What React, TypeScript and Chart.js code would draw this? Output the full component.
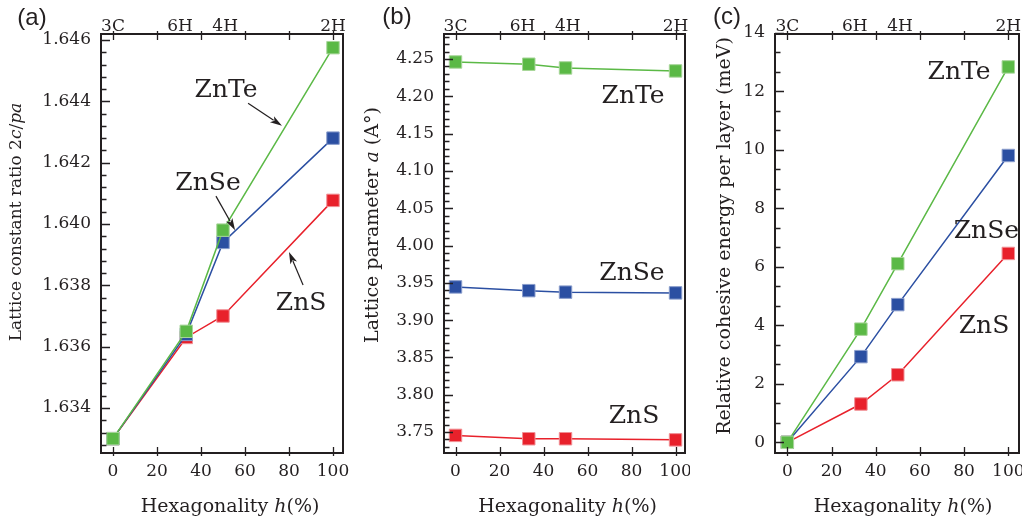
import React, { useEffect, useRef } from "react";
import { Chart, registerables } from "chart.js";

Chart.register(...registerables);

// ---------- data ----------
const hexagonality = [0, 33.3, 50, 100];
const xTicks = [0, 20, 40, 60, 80, 100];
const polytypeLabels = ["3C", "6H", "4H", "2H"];
const polytypeLabelAt = [0, 30.5, 51, 100];

const ratioZnTe = [1.633, 1.6365, 1.6398, 1.64575];
const ratioZnSe = [1.633, 1.6364, 1.6394, 1.6428];
const ratioZnS = [1.633, 1.6363, 1.6370, 1.64077];
const ratioTicks = [1.634, 1.636, 1.638, 1.64, 1.642, 1.644, 1.646];

const latticeZnTe = [4.246, 4.243, 4.238, 4.234];
const latticeZnSe = [3.9445, 3.9395, 3.9375, 3.9365];
const latticeZnS = [3.7455, 3.741, 3.741, 3.7395];
const latticeTicks = [3.75, 3.8, 3.85, 3.9, 3.95, 4.0, 4.05, 4.1, 4.15, 4.2, 4.25];

const energyZnTe = [0, 3.87, 6.11, 12.84];
const energyZnSe = [0, 2.93, 4.71, 9.81];
const energyZnS = [0, 1.31, 2.31, 6.46];
const energyTicks = [0, 2, 4, 6, 8, 10, 12, 14];

// ---------- styles ----------
const INK = "#231f20";
const SERIF = "'DejaVu Serif'";
const GREEN = "#5bb946";
const BLUE = "#2b4fa2";
const RED = "#e8212b";
const GREEN_EDGE = "#a8d69a";
const BLUE_EDGE = "#8a9dcc";
const RED_EDGE = "#f19095";
const H = 518;

type Seg = { t: string; i?: boolean };
type Series = { values: number[]; color: string; edge: string };
type Note = { text: string; x: number; y: number };
type Arrow = { x1: number; y1: number; x2: number; y2: number };
type Spec = {
  id: string;
  left: number;
  width: number;
  area: { left: number; right: number; top: number; bottom: number };
  xRange: [number, number];
  yRange: [number, number];
  yTicks: number[];
  yDigits: number;
  minorDiv: number;
  series: Series[];
  yTitle: Seg[];
  yTitlePos: [number, number];
  yTitleSize: number;
  tag: string;
  tagPos: [number, number];
  notes: Note[];
  arrows: Arrow[];
  xTitleShift: number;
};

const xTitle: Seg[] = [{ t: "Hexagonality " }, { t: "h", i: true }, { t: "(%)" }];

const specs: Spec[] = [
  {
    id: "a",
    left: 0,
    width: 350,
    area: { left: 101, right: 343, top: 34, bottom: 453 },
    xRange: [-5.45, 104.55],
    yRange: [1.632532, 1.646196],
    yTicks: ratioTicks,
    yDigits: 3,
    minorDiv: 5,
    series: [
      { values: ratioZnTe, color: GREEN, edge: GREEN_EDGE },
      { values: ratioZnSe, color: BLUE, edge: BLUE_EDGE },
      { values: ratioZnS, color: RED, edge: RED_EDGE },
    ],
    yTitle: [
      { t: "Lattice constant ratio 2" },
      { t: "c", i: true },
      { t: "/" },
      { t: "pa", i: true },
    ],
    yTitlePos: [17, 222],
    yTitleSize: 17,
    tag: "(a)",
    tagPos: [32, 18],
    notes: [
      { text: "ZnTe", x: 51.4, y: 1.64414 },
      { text: "ZnSe", x: 43.2, y: 1.64111 },
      { text: "ZnS", x: 85.5, y: 1.6372 },
    ],
    arrows: [
      { x1: 61.4, y1: 1.64394, x2: 76.8, y2: 1.6432 },
      { x1: 46.8, y1: 1.64091, x2: 55.5, y2: 1.6398 },
      { x1: 86.4, y1: 1.63801, x2: 80, y2: 1.63909 },
    ],
    xTitleShift: 8,
  },
  {
    id: "b",
    left: 350,
    width: 340,
    area: { left: 94, right: 335, top: 34, bottom: 453 },
    xRange: [-5.23, 104.3],
    yRange: [3.7219, 4.2835],
    yTicks: latticeTicks,
    yDigits: 2,
    minorDiv: 5,
    series: [
      { values: latticeZnTe, color: GREEN, edge: GREEN_EDGE },
      { values: latticeZnSe, color: BLUE, edge: BLUE_EDGE },
      { values: latticeZnS, color: RED, edge: RED_EDGE },
    ],
    yTitle: [{ t: "Lattice parameter " }, { t: "a", i: true }, { t: " (A°)" }],
    yTitlePos: [23, 225],
    yTitleSize: 19,
    tag: "(b)",
    tagPos: [47, 17],
    notes: [
      { text: "ZnTe", x: 80.7, y: 4.191 },
      { text: "ZnSe", x: 80.2, y: 3.9537 },
      { text: "ZnS", x: 81.1, y: 3.762 },
    ],
    arrows: [],
    xTitleShift: 3,
  },
  {
    id: "c",
    left: 690,
    width: 332,
    area: { left: 85, right: 329, top: 34, bottom: 453 },
    xRange: [-5.57, 104.84],
    yRange: [-0.366, 13.966],
    yTicks: energyTicks,
    yDigits: 0,
    minorDiv: 3,
    series: [
      { values: energyZnTe, color: GREEN, edge: GREEN_EDGE },
      { values: energyZnSe, color: BLUE, edge: BLUE_EDGE },
      { values: energyZnS, color: RED, edge: RED_EDGE },
    ],
    yTitle: [{ t: "Relative cohesive energy per layer (meV)" }],
    yTitlePos: [35, 236],
    yTitleSize: 19,
    tag: "(c)",
    tagPos: [37, 17],
    notes: [
      { text: "ZnTe", x: 77.7, y: 12.42 },
      { text: "ZnSe", x: 90.1, y: 7.0 },
      { text: "ZnS", x: 89, y: 3.75 },
    ],
    arrows: [],
    xTitleShift: 6,
  },
];

function drawSegs(ctx: CanvasRenderingContext2D, segs: Seg[], size: number) {
  const fonts = segs.map((s) => `${s.i ? "italic " : ""}${size}px ${SERIF}`);
  let total = 0;
  const widths = segs.map((s, k) => {
    ctx.font = fonts[k];
    const w = ctx.measureText(s.t).width;
    total += w;
    return w;
  });
  let cx = -total / 2;
  segs.forEach((s, k) => {
    ctx.font = fonts[k];
    ctx.fillText(s.t, cx, 0);
    cx += widths[k];
  });
}

function makeDecor(spec: Spec) {
  return {
    id: "decor" + spec.id,
    afterDraw(chart: any) {
      const ctx: CanvasRenderingContext2D = chart.ctx;
      const a = chart.chartArea;
      const xs = chart.scales.x;
      const ys = chart.scales.y;
      ctx.save();
      ctx.strokeStyle = INK;
      ctx.fillStyle = INK;

      // ticks
      ctx.lineWidth = 1.3;
      ctx.beginPath();
      for (const v of xTicks) {
        const px = Math.round(xs.getPixelForValue(v)) + 0.5;
        ctx.moveTo(px, a.bottom + 3);
        ctx.lineTo(px, a.bottom - 6);
        ctx.moveTo(px, a.top - 3);
        ctx.lineTo(px, a.top + 6);
      }
      for (const v of spec.yTicks) {
        const py = Math.round(ys.getPixelForValue(v)) + 0.5;
        ctx.moveTo(a.left, py);
        ctx.lineTo(a.left + 9, py);
      }
      const majorStep = spec.yTicks[1] - spec.yTicks[0];
      const minorStep = majorStep / spec.minorDiv;
      const base = spec.yTicks[0];
      for (let k = -40; k <= 200; k++) {
        if (k % spec.minorDiv === 0) continue;
        const v = base + k * minorStep;
        if (v < ys.min || v > ys.max) continue;
        const py = Math.round(ys.getPixelForValue(v)) + 0.5;
        ctx.moveTo(a.left, py);
        ctx.lineTo(a.left + 5.5, py);
      }
      ctx.stroke();

      // frame
      ctx.lineWidth = 2;
      ctx.strokeRect(a.left, a.top, a.right - a.left, a.bottom - a.top);

      // top polytype labels
      ctx.font = `17px ${SERIF}`;
      ctx.textAlign = "center";
      ctx.textBaseline = "alphabetic";
      polytypeLabels.forEach((lab, k) => {
        ctx.fillText(lab, xs.getPixelForValue(polytypeLabelAt[k]), a.top - 3);
      });

      // x title
      ctx.save();
      ctx.translate((a.left + a.right) / 2 + spec.xTitleShift, 512);
      ctx.textAlign = "left";
      drawSegs(ctx, xTitle, 19);
      ctx.restore();

      // y title
      ctx.save();
      ctx.translate(spec.yTitlePos[0], spec.yTitlePos[1]);
      ctx.rotate(-Math.PI / 2);
      ctx.textAlign = "left";
      ctx.textBaseline = "middle";
      drawSegs(ctx, spec.yTitle, spec.yTitleSize);
      ctx.restore();

      // panel tag
      ctx.font = `24px 'Liberation Sans'`;
      ctx.textAlign = "center";
      ctx.textBaseline = "middle";
      ctx.fillText(spec.tag, spec.tagPos[0], spec.tagPos[1]);

      // series notes
      ctx.font = `25px ${SERIF}`;
      ctx.textAlign = "center";
      ctx.textBaseline = "alphabetic";
      for (const n of spec.notes) {
        ctx.fillText(n.text, xs.getPixelForValue(n.x), ys.getPixelForValue(n.y));
      }

      // arrows
      ctx.lineWidth = 1.2;
      for (const ar of spec.arrows) {
        const x1 = xs.getPixelForValue(ar.x1);
        const y1 = ys.getPixelForValue(ar.y1);
        const x2 = xs.getPixelForValue(ar.x2);
        const y2 = ys.getPixelForValue(ar.y2);
        const ang = Math.atan2(y2 - y1, x2 - x1);
        const L = 12;
        const W = 3.6;
        const bx = x2 - L * Math.cos(ang);
        const by = y2 - L * Math.sin(ang);
        ctx.beginPath();
        ctx.moveTo(x1, y1);
        ctx.lineTo(bx + 2 * Math.cos(ang), by + 2 * Math.sin(ang));
        ctx.stroke();
        ctx.beginPath();
        ctx.moveTo(x2, y2);
        ctx.lineTo(bx - W * Math.sin(ang), by + W * Math.cos(ang));
        ctx.lineTo(bx + 3 * Math.cos(ang), by + 3 * Math.sin(ang));
        ctx.lineTo(bx + W * Math.sin(ang), by - W * Math.cos(ang));
        ctx.closePath();
        ctx.fill();
      }
      ctx.restore();
    },
  };
}

function Panel({ spec }: { spec: Spec }) {
  const ref = useRef<HTMLCanvasElement | null>(null);
  useEffect(() => {
    if (!ref.current) return;
    const a = spec.area;
    const tickFont = { family: SERIF, size: 17 };
    const chart = new Chart(ref.current, {
      type: "line",
      data: {
        datasets: spec.series.map((s) => ({
          data: hexagonality.map((x, i) => ({ x, y: s.values[i] })),
          borderColor: s.color,
          backgroundColor: s.color,
          borderWidth: 1.5,
          pointStyle: "rect",
          pointRadius: 8.8,
          pointBackgroundColor: s.color,
          pointBorderColor: s.edge,
          pointBorderWidth: 1,
          tension: 0,
          clip: false,
        })),
      },
      options: {
        animation: false,
        responsive: false,
        events: [],
        layout: {
          autoPadding: false,
          padding: { left: 0, top: a.top, right: spec.width - a.right, bottom: 0 },
        },
        plugins: { legend: { display: false }, tooltip: { enabled: false } },
        scales: {
          x: {
            type: "linear",
            position: "bottom",
            bounds: "data",
            min: spec.xRange[0],
            max: spec.xRange[1],
            grid: { display: false, drawTicks: false },
            border: { display: false },
            ticks: {
              font: tickFont,
              color: INK,
              padding: 8,
              maxRotation: 0,
              autoSkip: false,
              callback: (v: any) => String(v),
            },
            afterBuildTicks: (s: any) => {
              s.ticks = xTicks.map((v) => ({ value: v }));
            },
            afterFit: (s: any) => {
              s.height = H - a.bottom;
              s.paddingLeft = 0;
              s.paddingRight = 0;
            },
          },
          y: {
            type: "linear",
            position: "left",
            bounds: "data",
            min: spec.yRange[0],
            max: spec.yRange[1],
            grid: { display: false, drawTicks: false },
            border: { display: false },
            ticks: {
              font: tickFont,
              color: INK,
              padding: 10,
              autoSkip: false,
              callback: (v: any) => Number(v).toFixed(spec.yDigits),
            },
            afterBuildTicks: (s: any) => {
              s.ticks = spec.yTicks.map((v) => ({ value: v }));
            },
            afterFit: (s: any) => {
              s.width = a.left;
              s.paddingTop = 0;
              s.paddingBottom = 0;
            },
          },
        },
      } as any,
      plugins: [makeDecor(spec)],
    });
    return () => chart.destroy();
  }, [spec]);
  return (
    <canvas
      ref={ref}
      width={spec.width}
      height={H}
      style={{ position: "absolute", left: spec.left, top: 0, width: spec.width, height: H }}
    />
  );
}

export default function App() {
  return (
    <div
      style={{
        position: "fixed",
        left: 0,
        top: 0,
        width: 1022,
        height: H,
        background: "#ffffff",
        overflow: "hidden",
      }}
    >
      {specs.map((s) => (
        <Panel key={s.id} spec={s} />
      ))}
    </div>
  );
}
